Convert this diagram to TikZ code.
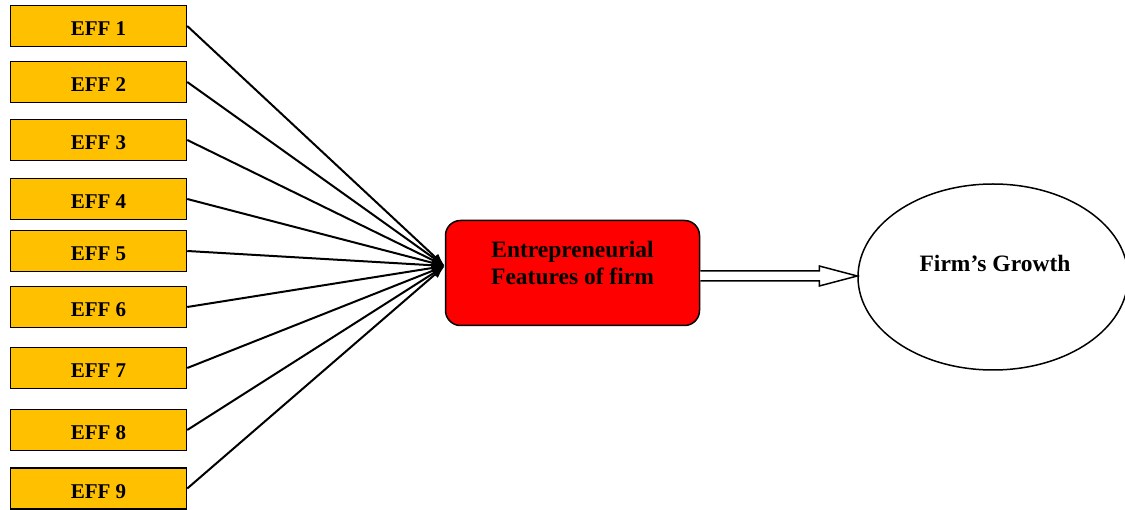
\documentclass[tikz,border=0pt]{standalone}
\usepackage{fontspec}
\setmainfont{Liberation Serif}
\usetikzlibrary{arrows.meta,shapes.geometric,calc}
\definecolor{effyellow}{HTML}{FFC000}
\tikzset{
  effbox/.style={draw=black, line width=1.5pt, fill=effyellow, minimum width=176pt, minimum height=41pt, inner sep=0pt, text height=19.5pt, text depth=0pt, font=\fontsize{21}{25}\selectfont\bfseries},
  featbox/.style={draw=black, line width=1.5pt, fill=red, rounded corners=15pt, minimum width=254pt, minimum height=105pt, inner sep=0pt},
  growthell/.style={draw=black, line width=1.5pt, ellipse, minimum width=270pt, minimum height=186pt, inner sep=0pt},
  bigtext/.style={font=\fontsize{23.5}{27}\selectfont\bfseries, align=center, inner sep=0pt},
  conn/.style={line width=2pt, -{Latex[length=13pt,width=9pt]}},
}
\begin{document}
\begin{tikzpicture}[x=1pt,y=-1pt]
\useasboundingbox (0,0) rectangle (1125,510);
\node[effbox] (e1) at (98.5,26) {EFF 1};
\node[effbox] (e2) at (98.5,82) {EFF 2};
\node[effbox] (e3) at (98.5,140) {EFF 3};
\node[effbox] (e4) at (98.5,199) {EFF 4};
\node[effbox] (e5) at (98.5,251) {EFF 5};
\node[effbox] (e6) at (98.5,307) {EFF 6};
\node[effbox] (e7) at (98.5,368) {EFF 7};
\node[effbox] (e8) at (98.5,430) {EFF 8};
\node[effbox] (e9) at (98.5,488.5) {EFF 9};
\node[featbox] (feat) at (572.5,273) {};
\node[bigtext] (feattext) at ([yshift=10pt]feat.center) {Entrepreneurial\\Features of firm};
\node[growthell] (growth) at (993,277) {};
\node[bigtext] (growthtext) at ([yshift=14pt,xshift=2pt]growth.center) {Firm’s Growth};
\coordinate (conv) at ([yshift=7pt]feat.west);
\foreach \i in {1,...,9} {\draw[conn] (e\i.east) -- (conv);}
\coordinate (a) at ([yshift=-3pt]feat.east);
\draw[line width=1.5pt, fill=white, line join=miter]
  let \p1=(a), \p2=(growth.west) in
  (\x1,\y1+5pt) -- (\x2-38pt,\y1+5pt) -- (\x2-38pt,\y1+10pt) -- (\x2,\y1)
  -- (\x2-38pt,\y1-10pt) -- (\x2-38pt,\y1-5pt) -- (\x1,\y1-5pt);
\end{tikzpicture}
\end{document}
